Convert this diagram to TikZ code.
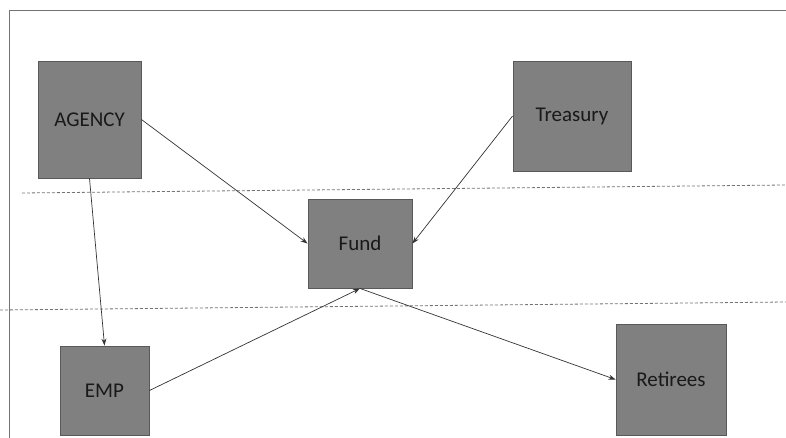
\documentclass[tikz,border=0pt]{standalone}
\usepackage{fontspec}
\setmainfont{Carlito}
\usetikzlibrary{arrows.meta}
\begin{document}
\begin{tikzpicture}[x=1pt,y=1pt,
  box/.style={draw=black!65, line width=0.9pt, fill=black!50, inner sep=0pt,
    font=\fontsize{21}{25}\selectfont, text=black!90},
  conn/.style={draw=black!80, line width=0.7pt, -{Stealth[length=7pt,width=5pt]}},
  sep/.style={draw=black!55, line width=0.8pt, dash pattern=on 3pt off 2pt},
  frame/.style={draw=black!55, line width=1pt}]
\useasboundingbox (0,0) rectangle (786,-438);
% frame
\coordinate (fa) at (9.3,-438);
\coordinate (fb) at (9.3,-10.5);
\coordinate (fc) at (786,-10.5);
\draw[frame] (fa) -- (fb) -- (fc);
% dashed separators
\coordinate (d1a) at (22,-193);
\coordinate (d1b) at (786,-185);
\coordinate (d2a) at (0,-310);
\coordinate (d2b) at (786,-302);
\draw[sep] (d1a) -- (d1b);
\draw[sep] (d2a) -- (d2b);
% boxes
\node[box, minimum width=103pt, minimum height=117pt] (agency) at (89.5,-119.5) {AGENCY};
\node[box, minimum width=118pt, minimum height=110pt] (treasury) at (572,-116) {Treasury};
\node[box, minimum width=104pt, minimum height=89pt] (fund) at (360,-243.5) {Fund};
\node[box, minimum width=89pt, minimum height=89pt] (emp) at (104.5,-390.5) {EMP};
\node[box, minimum width=110pt, minimum height=111pt] (retirees) at (671,-379.5) {Retirees};
% connectors
\draw[conn] (agency.east) -- (fund.west);
\draw[conn] (treasury.west) -- (fund.east);
\draw[conn] (agency.south) -- (emp.north);
\draw[conn] (emp.east) -- (fund.south);
\draw[conn] (fund.south) -- (retirees.west);
\end{tikzpicture}
\end{document}
